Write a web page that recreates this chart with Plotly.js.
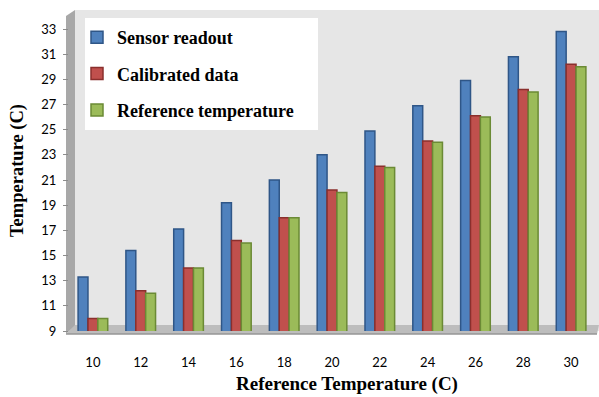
<!DOCTYPE html>
<html>
<head>
<meta charset="utf-8">
<script src="https://cdn.plot.ly/plotly-3.0.1.min.js"></script>
<style>html,body{margin:0;padding:0;background:#fff;}#chart{width:599px;height:397px;}</style>
</head>
<body>
<div id="chart"></div>
<script>
var categories = ["10","12","14","16","18","20","22","24","26","28","30"];
var sensorReadout = [13.3, 15.4, 17.1, 19.2, 21.0, 23.0, 24.9, 26.9, 28.9, 30.8, 32.8];
var calibratedData = [10.0, 12.2, 14.0, 16.2, 18.0, 20.2, 22.1, 24.1, 26.1, 28.2, 30.2];
var referenceTemp = [10.0, 12.0, 14.0, 16.0, 18.0, 20.0, 22.0, 24.0, 26.0, 28.0, 30.0];
var yTicks = [9, 11, 13, 15, 17, 19, 21, 23, 25, 27, 29, 31, 33];
var xTitle = 'Reference Temperature (C)';
var yTitle = 'Temperature (C)';

var L = 69, R = 4, T = 10, B = 66, W = 599, H = 397;
var pw = W - L - R, ph = H - T - B;
function px(x){ return (x - L) / pw; }
function py(y){ return (H - B - y) / ph; }

function mk(name, vals, col, dark, grp){
  return {type:'bar', name:name, x:categories, y:vals, legendgroup:grp,
    marker:{color:col, line:{color:dark, width:1.5}}, hoverinfo:'y'};
}
var data = [
  mk('Sensor readout', sensorReadout, '#4f81bd', '#2f5687', 'a'),
  mk('Calibrated data', calibratedData, '#c0504d', '#8a2f2d', 'b'),
  mk('Reference temperature', referenceTemp, '#9bbb59', '#6b8a35', 'c')
];

var shapes = [
  {type:'rect', xref:'paper', yref:'paper', x0:px(75), x1:px(599), y0:py(331), y1:py(10), fillcolor:'#e6e6e6', line:{width:0}, layer:'below'},
  {type:'path', xref:'paper', yref:'paper', path:'M '+px(66)+' '+py(334)+' L '+px(66)+' '+py(16)+' L '+px(75)+' '+py(10)+' L '+px(75)+' '+py(326)+' Z', fillcolor:'#a8a8a8', line:{width:0}, layer:'below'},
  {type:'path', xref:'paper', yref:'paper', path:'M '+px(66)+' '+py(334)+' L '+px(75)+' '+py(325)+' L '+px(599)+' '+py(325)+' L '+px(597)+' '+py(334)+' Z', fillcolor:'#bdbdbd', line:{width:0}, layer:'below'},
  {type:'line', xref:'paper', yref:'paper', x0:px(66), x1:px(597), y0:py(334), y1:py(334), line:{color:'#969696', width:1.5}, layer:'below'},
  {type:'rect', xref:'paper', yref:'paper', x0:px(85), x1:px(318), y0:py(130), y1:py(18), fillcolor:'#ffffff', line:{width:0}, layer:'below'}
];

var serif = 'Liberation Serif, Times New Roman, serif';
var layout = {
  width:W, height:H,
  margin:{l:L, r:R, t:T, b:B},
  paper_bgcolor:'#ffffff', plot_bgcolor:'rgba(0,0,0,0)',
  barmode:'group', bargap:0.38, bargroupgap:0,
  showlegend:true,
  legend:{x:px(77), y:py(19), xanchor:'left', yanchor:'top', bgcolor:'rgba(0,0,0,0)',
    font:{family:serif, size:18, color:'#000', weight:'bold'},
    tracegroupgap:10, traceorder:'grouped'},
  font:{family:'Lato, sans-serif', size:13, color:'#000'},
  xaxis:{type:'category', range:[-0.5,10.5], showgrid:false, zeroline:false, showline:false,
    ticks:'', ticklabelstandoff:22, tickfont:{family:'Lato, sans-serif', size:13},
    fixedrange:true},
  yaxis:{tickvals:yTicks, ticktext:yTicks.map(String), showgrid:false, zeroline:false,
    showline:false, ticks:'outside', ticklen:5, tickcolor:'#8c8c8c', ticklabelstandoff:4,
    tickfont:{family:'Lato, sans-serif', size:13},
    title:{text:yTitle, standoff:12, font:{family:serif, size:18.5, weight:'bold'}},
    fixedrange:true},
  annotations:[{text:xTitle, xref:'paper', yref:'paper', x:px(347), y:py(384), xanchor:'center', yanchor:'middle',
    showarrow:false, font:{family:serif, size:19, weight:'bold', color:'#000'}}],
  shapes:shapes
};
layout.yaxis.range = [9, 9 + ph/((331-29)/24)];
Plotly.newPlot('chart', data, layout, {displayModeBar:false, staticPlot:true});
</script>
</body>
</html>
